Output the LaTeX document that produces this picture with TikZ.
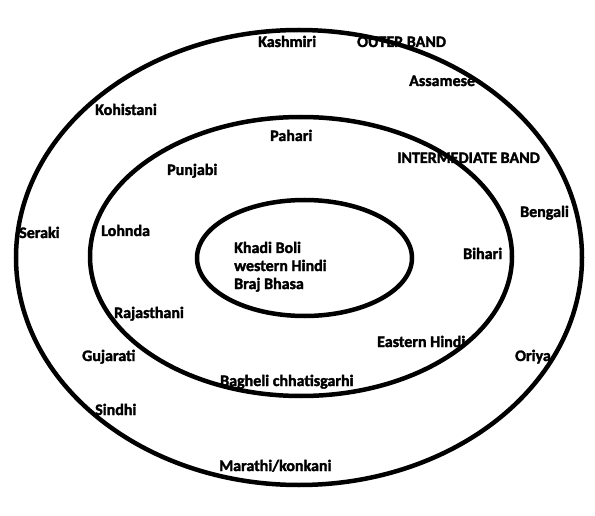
\documentclass[tikz,border=0pt]{standalone}
\usepackage{fontspec}
\setmainfont{Carlito}[BoldFont={Carlito Bold}, UprightFont={Carlito}, BoldFeatures={FakeBold=2}]
\begin{document}
\begin{tikzpicture}[x=1pt,y=-1pt,
  band/.style={line width=4.5pt, draw=black},
  lbl/.style={anchor=base west, inner sep=0pt, font=\bfseries\fontsize{16}{18}\selectfont}]
\useasboundingbox (0,0) rectangle (595,516);
% labels
\node[lbl] (kashmiri) at (258,47) {Kashmiri};
\node[lbl] (outerband) at (357,47) {OUTER BAND};
\node[lbl] (assamese) at (409,86) {Assamese};
\node[lbl] (kohistani) at (95,115) {Kohistani};
\node[lbl] (pahari) at (270,141) {Pahari};
\node[lbl] (interband) at (397,163) {INTERMEDIATE BAND};
\node[lbl] (punjabi) at (167,175) {Punjabi};
\node[lbl] (bengali) at (520,217) {Bengali};
\node[lbl] (seraki) at (19,238) {Seraki};
\node[lbl] (lohnda) at (101,236) {Lohnda};
\node[lbl] (khadi) at (234,253) {Khadi Boli};
\node[lbl] (western) at (234,271) {western Hindi};
\node[lbl] (braj) at (234,289) {Braj Bhasa};
\node[lbl] (bihari) at (463,259) {Bihari};
\node[lbl] (rajasthani) at (114,318) {Rajasthani};
\node[lbl] (easternhindi) at (377,347) {Eastern Hindi};
\node[lbl] (gujarati) at (82,361) {Gujarati};
\node[lbl] (oriya) at (515,361) {Oriya};
\node[lbl] (bagheli) at (220,386) {Bagheli chhatisgarhi};
\node[lbl] (sindhi) at (95,415) {Sindhi};
\node[lbl] (marathi) at (219,471) {Marathi/konkani};
% bands
\draw[band] (299,257.5) ellipse [x radius=283, y radius=227.5];
\draw[band] (301,256.5) ellipse [x radius=211, y radius=139.5];
\draw[band] (304.5,258) ellipse [x radius=107.5, y radius=58];
\end{tikzpicture}
\end{document}
